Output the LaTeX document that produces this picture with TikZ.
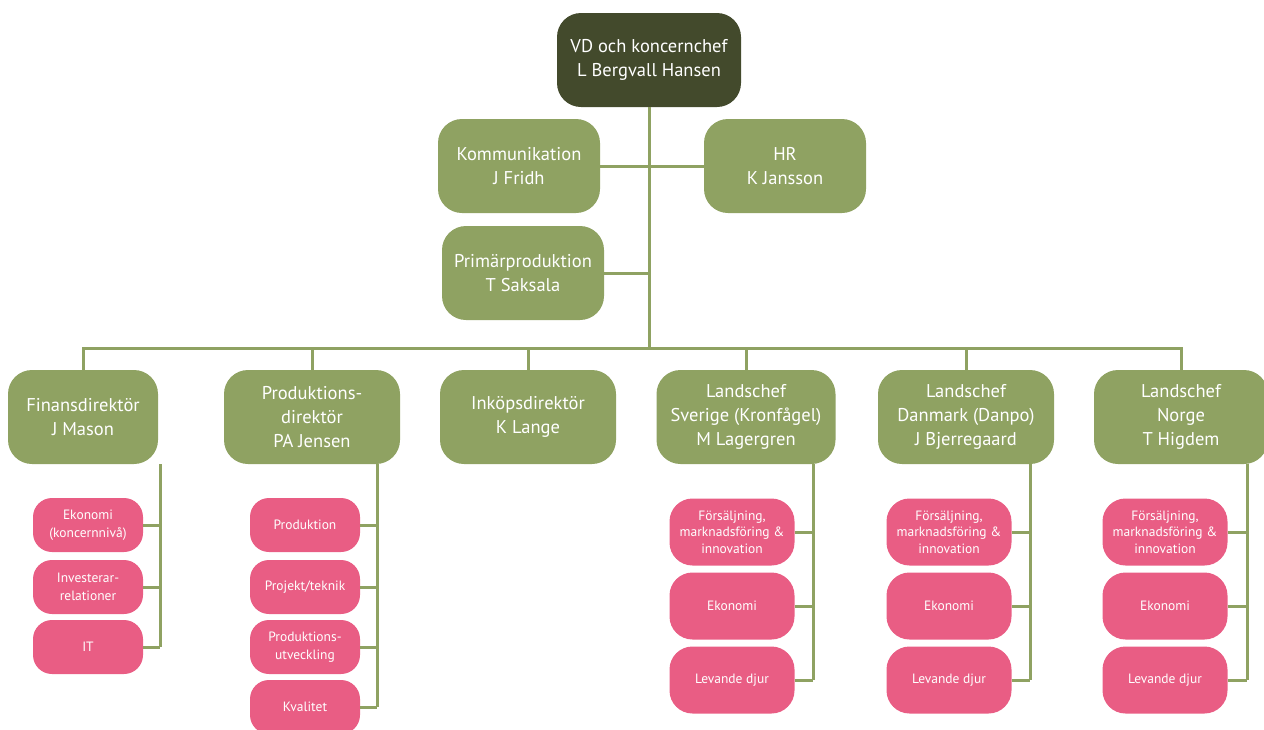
\documentclass[tikz,border=0pt]{standalone}
\usepackage{fontspec}
\setmainfont{PT Sans}
\definecolor{dk}{HTML}{434A2C}
\definecolor{gr}{HTML}{8FA262}
\definecolor{pk}{HTML}{E95D84}
\definecolor{ln}{HTML}{8FA262}
\tikzset{
  gbox/.style={rounded corners=24pt, fill=gr, text=white, align=center,
    font=\fontsize{18.5}{24}\selectfont, inner sep=0pt, minimum height=94pt},
  dbox/.style={gbox, fill=dk},
  pbox/.style={rounded corners=19pt, fill=pk, text=white, align=center,
    font=\fontsize{13.5}{18.5}\selectfont, inner sep=0pt, minimum width=110pt, minimum height=54pt},
  qbox/.style={rounded corners=23pt, fill=pk, text=white, align=center,
    font=\fontsize{13.5}{16.5}\selectfont, inner sep=0pt, minimum width=125pt, minimum height=67pt},
  conn/.style={draw=ln, line width=3pt},
}
\begin{document}
\begin{tikzpicture}[x=1pt,y=-1pt]
\useasboundingbox (0,0) rectangle (1264,729);
\clip (0,0) rectangle (1264,729);
% top
\node[dbox, minimum width=184pt] (vd) at (649,60) {VD och koncernchef\\L Bergvall Hansen};
\node[gbox, minimum width=162pt] (kom) at (519,166) {Kommunikation\\J Fridh};
\node[gbox, minimum width=162pt] (hr) at (785,166) {HR\\K Jansson};
\node[gbox, minimum width=162pt] (prim) at (523,273) {Primärproduktion\\T Saksala};
% level 2
\node[gbox, minimum width=150pt] (fin) at (83,417) {Finansdirektör\\J Mason};
\node[gbox, minimum width=176pt] (prod) at (312,417) {Produktions-\\direktör\\PA Jensen};
\node[gbox, minimum width=176pt] (ink) at (528,417) {Inköpsdirektör\\K Lange};
\node[gbox, minimum width=179pt] (sve) at (746,417) {Landschef\\Sverige (Kronfågel)\\M Lagergren};
\node[gbox, minimum width=176pt] (dan) at (966,417) {Landschef\\Danmark (Danpo)\\J Bjerregaard};
\node[gbox, minimum width=174pt] (nor) at (1181,417) {Landschef\\Norge\\T Higdem};
% connectors top
\coordinate (bus) at (649,348);
\draw[conn] (vd.south) -- (bus);
\draw[conn] (kom.east) -- (hr.west);
\draw[conn] (prim.east) -- (prim.east -| bus);
\draw[conn] (fin.north) |- (bus) -| (nor.north);
\foreach \n in {prod,ink,sve,dan} \draw[conn] (\n.north) -- (\n.north |- bus);
% finans children
\node[pbox] (f1) at (88,525) {Ekonomi\\(koncernnivå)};
\node[pbox] (f2) at (88,587) {Investerar-\\relationer};
\node[pbox] (f3) at (88,647) {IT};
\coordinate (fv) at (160,464);
\draw[conn] (fv) -- (fv |- f3.east);
\foreach \n in {f1,f2,f3} \draw[conn] (\n.east) -- (\n.east -| fv);
% produktion children
\node[pbox] (p1) at (305,525) {Produktion};
\node[pbox] (p2) at (305,587) {Projekt/teknik};
\node[pbox] (p3) at (305,647) {Produktions-\\utveckling};
\node[pbox] (p4) at (305,707) {Kvalitet};
\coordinate (pv) at (377,464);
\draw[conn] (pv) -- (pv |- p4.east);
\foreach \n in {p1,p2,p3,p4} \draw[conn] (\n.east) -- (\n.east -| pv);
% country children
\foreach \c/\cx/\vx in {s/732/813, d/949/1030, n/1165/1247} {
  \node[qbox] (\c1) at (\cx,532) {Försäljning,\\marknadsföring \&\\innovation};
  \node[qbox] (\c2) at (\cx,606) {Ekonomi};
  \node[qbox] (\c3) at (\cx,680) {Levande djur};
  \coordinate (\c v) at (\vx,464);
  \draw[conn] (\c v) -- (\c v |- \c3.east);
  \foreach \k in {1,2,3} \draw[conn] (\c\k.east) -- (\c\k.east -| \c v);
}
\end{tikzpicture}
\end{document}
